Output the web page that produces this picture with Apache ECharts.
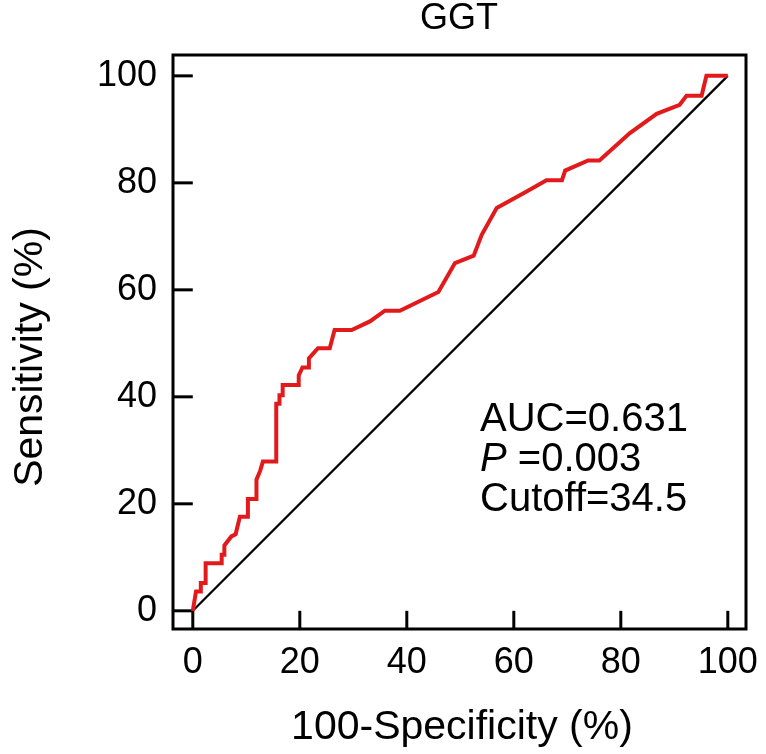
<!DOCTYPE html>
<html>
<head>
<meta charset="utf-8">
<script src="https://cdn.jsdelivr.net/npm/echarts@6/dist/echarts.min.js"></script>
<style>html,body{margin:0;padding:0;background:#fff}#c{width:766px;height:754px}</style>
</head>
<body>
<div id="c"></div>
<script>
const titleText = 'GGT';
const xName = '100-Specificity (%)';
const yName = 'Sensitivity (%)';
const tickValues = [0, 20, 40, 60, 80, 100];
const rocX = [0, 0.6, 1.5, 1.5, 2.4, 2.4, 5.4, 5.4, 5.9, 5.9, 7.2, 8.0, 8.8, 10.3, 10.3, 11.9, 11.9, 12.6, 13.1, 15.6, 15.6, 16.2, 16.2, 16.8, 16.8, 19.8, 19.8, 20.5, 21.7, 21.7, 23.4, 25.6, 26.5, 29.7, 33.1, 35.9, 38.7, 45.9, 49.0, 52.5, 54.0, 56.8, 62.4, 66.1, 69.0, 69.6, 73.9, 76.0, 81.7, 86.7, 91.0, 92.3, 95.1, 96.0, 100];
const rocY = [0, 3.6, 3.6, 5.2, 5.2, 8.9, 8.9, 10.5, 10.5, 12.2, 13.9, 14.3, 17.6, 17.6, 20.9, 20.9, 24.5, 26.2, 27.9, 27.9, 38.7, 38.7, 40.3, 40.3, 42.2, 42.2, 44.0, 45.5, 45.5, 47.2, 49.1, 49.1, 52.5, 52.5, 54.1, 56.1, 56.1, 59.6, 65.0, 66.4, 70.3, 75.3, 78.4, 80.5, 80.5, 82.3, 84.2, 84.2, 89.3, 92.9, 94.6, 96.3, 96.3, 100, 100];
const refX = [0, 100];
const refY = [0, 100];
const aucText = 'AUC=0.631';
const pLabel = 'P';
const pText = ' =0.003';
const cutoffText = 'Cutoff=34.5';

const FONT = '"Liberation Sans", Arial, sans-serif';
const FS = 36;
const FS_NAME = 41;
const FS_NOTE = 40;
const X_MIN = -3.7, X_MAX = 103.4, Y_MIN = -3.4, Y_MAX = 103.9;

const tickSeries = (isX) => ({
  type: 'custom',
  silent: true,
  clip: false,
  z: 1,
  data: tickValues.map(v => isX ? [v, 0] : [0, v]),
  renderItem: (params, api) => {
    const v = api.value(isX ? 0 : 1);
    const p1 = isX ? api.coord([v, Y_MIN]) : api.coord([X_MIN, v]);
    const p2 = isX ? api.coord([v, 0]) : api.coord([0, v]);
    return {
      type: 'line',
      shape: {x1: p1[0], y1: p1[1], x2: p2[0], y2: p2[1]},
      style: {stroke: '#000', lineWidth: 3}
    };
  }
});

const chart = echarts.init(document.getElementById('c'), null, {renderer: 'canvas'});
chart.setOption({
  animation: false,
  backgroundColor: '#fff',
  grid: {left: 173, right: 20, top: 55, bottom: 125, show: true, borderColor: '#000', borderWidth: 3, containLabel: false},
  xAxis: {
    type: 'value', min: X_MIN, max: X_MAX,
    axisLine: {show: false},
    axisTick: {show: false},
    axisLabel: {fontFamily: FONT, fontSize: FS, color: '#000', margin: 16, customValues: tickValues},
    splitLine: {show: false}
  },
  yAxis: {
    type: 'value', min: Y_MIN, max: Y_MAX,
    axisLine: {show: false},
    axisTick: {show: false},
    axisLabel: {fontFamily: FONT, fontSize: FS, color: '#000', margin: 16, customValues: tickValues},
    splitLine: {show: false}
  },
  series: [
    tickSeries(true),
    tickSeries(false),
    {
      type: 'line', data: refX.map((v, i) => [v, refY[i]]),
      symbol: 'none', lineStyle: {color: '#000', width: 2.2}, z: 2
    },
    {
      type: 'line', data: rocX.map((v, i) => [v, rocY[i]]),
      symbol: 'none', lineStyle: {color: '#e31a1c', width: 4, join: 'miter'}, z: 3
    }
  ],
  graphic: [
    {
      type: 'text', x: 459, y: 1,
      style: {text: titleText, fontFamily: FONT, fontSize: FS, fill: '#000', align: 'center', verticalAlign: 'top'}
    },
    {
      type: 'text', x: 462, y: 707,
      style: {text: xName, fontFamily: FONT, fontSize: FS_NAME, fill: '#000', align: 'center', verticalAlign: 'top'}
    },
    {
      type: 'text', x: 31, y: 357, rotation: Math.PI / 2,
      style: {text: yName, fontFamily: FONT, fontSize: FS_NAME, fill: '#000', align: 'center', verticalAlign: 'middle'}
    },
    {
      type: 'text', x: 480, y: 400,
      style: {
        text: '{a|' + aucText + '}\n{i|' + pLabel + '}{a|' + pText + '}\n{a|' + cutoffText + '}',
        verticalAlign: 'top',
        rich: {
          a: {fontFamily: FONT, fontSize: FS_NOTE, fill: '#000', lineHeight: 40},
          i: {fontFamily: FONT, fontSize: FS_NOTE, fontStyle: 'italic', fill: '#000', lineHeight: 40}
        }
      }
    }
  ]
});
</script>
</body>
</html>
